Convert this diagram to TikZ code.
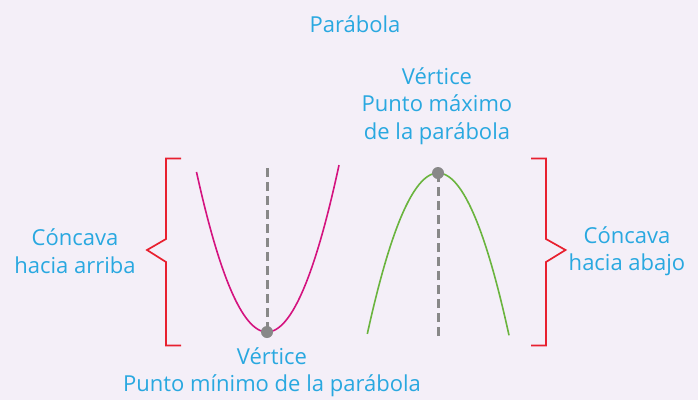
\documentclass[tikz,border=0pt]{standalone}
\usepackage{fontspec}
\setmainfont{Open Sans}
\definecolor{bg}{HTML}{F4EFF8}
\definecolor{txt}{HTML}{29A8E0}
\definecolor{brk}{HTML}{E8202F}
\definecolor{magp}{HTML}{D4137F}
\definecolor{grn}{HTML}{6AB43E}
\definecolor{gry}{HTML}{888888}
\tikzset{
  lbl/.style={text=txt, align=center, font=\fontsize{22}{27.5}\selectfont, inner sep=0pt},
  brace/.style={draw=brk, line width=1.7pt, line join=miter},
  axis/.style={draw=gry, line width=3pt, dash pattern=on 9pt off 5pt},
  vdot/.style={circle, fill=gry, minimum size=12pt, inner sep=0pt},
}
\begin{document}
\begin{tikzpicture}[x=1pt,y=-1pt]
\fill[bg] (0,0) rectangle (698,400);
\useasboundingbox (0,0) rectangle (698,400);
% title
\node[lbl] (title) at (355,24) {Parábola};
% left parabola
\coordinate (lt) at (267,168);
\coordinate (vminc) at (267,332);
\draw[axis] (lt) -- (vminc);
\draw[magp, line width=1.6pt] plot[domain=-70.5:72, samples=80, smooth] ({267+\x},{332-0.0322*\x*\x});
\node[vdot] (vmin) at (vminc) {};
% right parabola
\coordinate (rb) at (438,336);
\coordinate (vmaxc) at (438,173);
\draw[axis] (rb) -- (vmaxc);
\draw[grn, line width=1.6pt] plot[domain=-70.7:71, samples=80, smooth] ({438+\x},{173+0.0322*\x*\x});
\node[vdot] (vmax) at (vmaxc) {};
% braces
\draw[brace] (181,158.5) -- (166,158.5) -- (166,239) -- (147,250) -- (166,262) -- (166,345.5) -- (181,345.5);
\draw[brace] (531,158.5) -- (546,158.5) -- (546,239) -- (565.5,250) -- (546,262) -- (546,345.5) -- (531,345.5);
% labels
\node[lbl] (vmaxl) at (437,106) {Vértice\\Punto máximo\\de la parábola};
\node[lbl] (cup) at (75,251) {Cóncava\\hacia arriba};
\node[lbl] (cdown) at (627,251) {Cóncava\\hacia abajo};
\node[lbl] (vminl) at (272,372) {Vértice\\Punto mínimo de la parábola};
\end{tikzpicture}
\end{document}
